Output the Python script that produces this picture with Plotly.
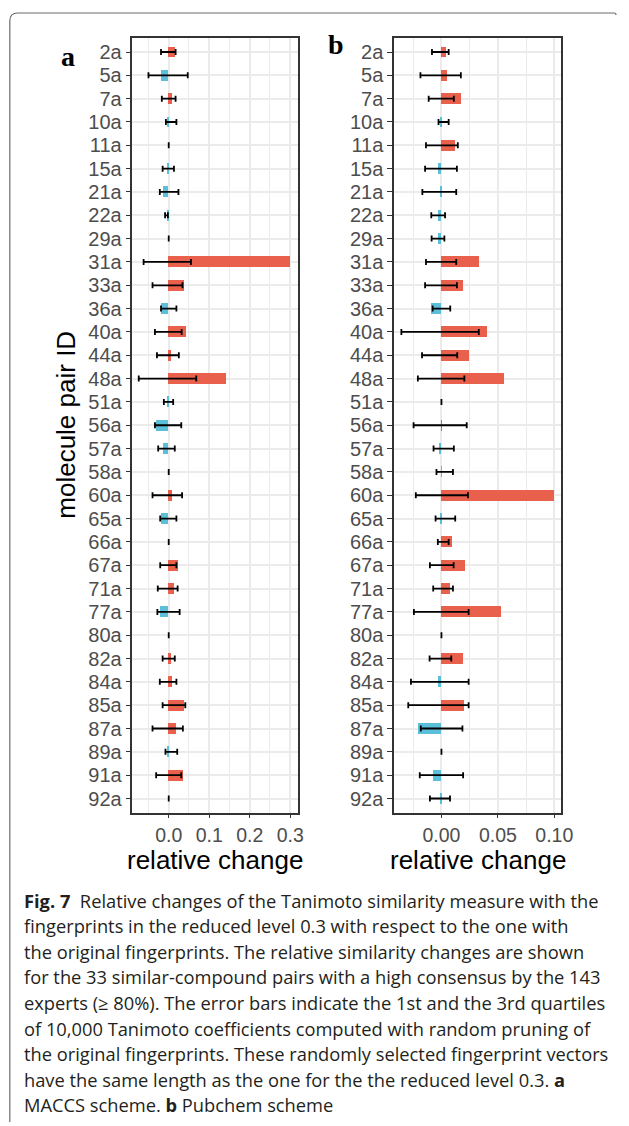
import plotly.graph_objects as go

W, H = 629, 1126

pairs = ["2a", "5a", "7a", "10a", "11a", "15a", "21a", "22a", "29a", "31a", "33a",
         "36a", "40a", "44a", "48a", "51a", "56a", "57a", "58a", "60a", "65a", "66a",
         "67a", "71a", "77a", "80a", "82a", "84a", "85a", "87a", "89a", "91a", "92a"]

# Panel a: MACCS
maccs_change = [0.017, -0.019, 0.008, -0.003, 0.0, -0.004, -0.013, -0.003, 0.0, 0.301, 0.040,
                -0.019, 0.044, 0.007, 0.142, -0.003, -0.031, -0.012, 0.0, 0.008, -0.017, 0.0,
                0.025, 0.015, -0.021, 0.0, 0.006, 0.010, 0.040, 0.019, -0.003, 0.036, 0.0]
maccs_q1 = [-0.019, -0.050, -0.017, -0.007, 0.0, -0.015, -0.022, -0.009, 0.0, -0.062, -0.040,
            -0.019, -0.034, -0.029, -0.074, -0.012, -0.034, -0.026, 0.0, -0.040, -0.021, 0.0,
            -0.021, -0.027, -0.028, 0.0, -0.015, -0.022, -0.015, -0.040, -0.008, -0.031, 0.0]
maccs_q3 = [0.017, 0.047, 0.017, 0.019, 0.0, 0.013, 0.024, -0.002, 0.0, 0.055, 0.034,
            0.019, 0.032, 0.025, 0.068, 0.011, 0.031, 0.015, 0.0, 0.033, 0.019, 0.0,
            0.019, 0.022, 0.027, 0.0, 0.015, 0.019, 0.041, 0.035, 0.021, 0.031, 0.0]

# Panel b: Pubchem
pub_change = [0.004, 0.005, 0.0172, -0.0005, 0.0116, -0.0032, -0.0005, -0.0026, -0.0026, 0.0331, 0.0189,
              -0.0093, 0.0407, 0.0244, 0.0555, 0.0, 0.0003, -0.002, -0.0003, 0.0994, -0.0005, 0.0093,
              0.0212, 0.0076, 0.0532, 0.0, 0.0189, -0.0029, 0.0198, -0.0206, 0.0, -0.0076, -0.0005]
pub_q1 = [-0.0084, -0.0186, -0.0113, -0.0026, -0.0137, -0.0145, -0.0169, -0.009, -0.0087, -0.0137, -0.0145,
          -0.0078, -0.0355, -0.0172, -0.0209, 0.0, -0.0247, -0.007, -0.0044, -0.0227, -0.0052, -0.0032,
          -0.0102, -0.0073, -0.0244, 0.0, -0.0105, -0.027, -0.0294, -0.0183, 0.0, -0.0192, -0.0102]
pub_q3 = [0.0064, 0.0172, 0.011, 0.0064, 0.0145, 0.0137, 0.0131, 0.0032, 0.0026, 0.0131, 0.0137,
          0.0078, 0.0331, 0.014, 0.0203, 0.0, 0.0224, 0.011, 0.0102, 0.0235, 0.0122, 0.0064,
          0.0108, 0.0102, 0.0241, 0.0, 0.0087, 0.0241, 0.0241, 0.0186, 0.0, 0.0192, 0.0076]

ticks_a = [0.0, 0.1, 0.2, 0.3]
ticklabels_a = ["0.0", "0.1", "0.2", "0.3"]
minor_a = [-0.05, 0.05, 0.15, 0.25]
ticks_b = [0.0, 0.05, 0.10]
ticklabels_b = ["0.00", "0.05", "0.10"]
minor_b = [-0.025, 0.025, 0.075]

caption_lines = [
    "<b>Fig. 7</b>  Relative changes of the Tanimoto similarity measure with the",
    "fingerprints in the reduced level 0.3 with respect to the one with",
    "the original fingerprints. The relative similarity changes are shown",
    "for the 33 similar-compound pairs with a high consensus by the 143",
    "experts (&#8805; 80%). The error bars indicate the 1st and the 3rd quartiles",
    "of 10,000 Tanimoto coefficients computed with random pruning of",
    "the original fingerprints. These randomly selected fingerprint vectors",
    "have the same length as the one for the the reduced level 0.3. <b>a</b>",
    "MACCS scheme. <b>b</b> Pubchem scheme",
]

RED = "#E9604C"
BLUE = "#5BBFDA"


def px(x):
    return x / W


def py(y):
    return 1 - y / H


fig = go.Figure()


def add_panel(vals, q1, q3, xa, ya):
    colors = [RED if v > 0 else BLUE for v in vals]
    fig.add_trace(go.Bar(
        x=vals, y=pairs, orientation="h", marker=dict(color=colors, line=dict(width=0)),
        width=0.47, xaxis=xa, yaxis=ya, showlegend=False, hoverinfo="x+y"))
    mid = [(a + b) / 2 for a, b in zip(q1, q3)]
    half = [(b - a) / 2 for a, b in zip(q1, q3)]
    fig.add_trace(go.Scatter(
        x=mid, y=pairs, mode="markers", marker=dict(size=1, opacity=0),
        error_x=dict(type="data", array=half, symmetric=True, color="black",
                     thickness=1.8, width=3),
        xaxis=xa, yaxis=ya, showlegend=False, hoverinfo="skip"))


add_panel(maccs_change, maccs_q1, maccs_q3, "x", "y")
add_panel(pub_change, pub_q1, pub_q3, "x2", "y2")

GRID = "#EBEBEB"
LINE = "#333333"
YTICKFONT = dict(family="Liberation Sans, Arial", size=20, color="#4D4D4D")
XTICKFONT = dict(family="Liberation Sans, Arial", size=19.5, color="#4D4D4D")
TITLEFONT = dict(family="Liberation Sans, Arial", size=26, color="black")

ydom = [py(812.5), py(38)]

common_x = dict(showline=True, linecolor=LINE, linewidth=1.5, mirror=True,
                ticks="outside", ticklen=4, tickcolor=LINE, tickwidth=1.2,
                showgrid=True, gridcolor=GRID, gridwidth=1.5, zeroline=False,
                tickfont=XTICKFONT, tickmode="array")
common_y = dict(showline=True, linecolor=LINE, linewidth=1.5, mirror=True,
                ticks="outside", ticklen=5, tickcolor=LINE, tickwidth=1.2,
                showgrid=True, gridcolor=GRID, gridwidth=1.5, zeroline=False,
                tickfont=YTICKFONT, type="category", categoryorder="array",
                categoryarray=pairs, tickmode="array", tickvals=pairs, ticktext=pairs,
                domain=ydom)

fig.update_layout(
    width=W, height=H, autosize=False,
    margin=dict(l=0, r=0, t=0, b=0),
    paper_bgcolor="white", plot_bgcolor="white",
    bargap=0,
    xaxis=dict(domain=[px(135), px(303.5)], range=[-0.0896, 0.3185],
               tickvals=ticks_a, ticktext=ticklabels_a, anchor="y",
               minor=dict(tickmode="array", tickvals=minor_a, showgrid=True,
                          gridcolor=GRID, gridwidth=0.8, ticklen=0),
               **common_x),
    xaxis2=dict(domain=[px(401.7), px(572)], range=[-0.042, 0.106],
                tickvals=ticks_b, ticktext=ticklabels_b, anchor="y2",
                minor=dict(tickmode="array", tickvals=minor_b, showgrid=True,
                           gridcolor=GRID, gridwidth=0.8, ticklen=0),
                **common_x),
    yaxis=dict(anchor="x", **common_y),
    yaxis2=dict(anchor="x2", **common_y),
)
fig.update_yaxes(range=[len(pairs) - 0.4, -0.6])

ann = []
# axis titles
ann.append(dict(text="relative change", x=px(219), y=py(860), xref="paper", yref="paper",
                showarrow=False, font=TITLEFONT, xanchor="center", yanchor="middle"))
ann.append(dict(text="relative change", x=px(487), y=py(860), xref="paper", yref="paper",
                showarrow=False, font=TITLEFONT, xanchor="center", yanchor="middle"))
ann.append(dict(text="molecule pair ID", x=px(67), y=py(425), xref="paper", yref="paper",
                showarrow=False, font=TITLEFONT, textangle=-90,
                xanchor="center", yanchor="middle"))
# panel letters
ann.append(dict(text="<b>a</b>", x=px(69), y=py(56), xref="paper", yref="paper",
                showarrow=False, font=dict(family="Liberation Serif, Times New Roman", size=28, color="black"),
                xanchor="center", yanchor="middle"))
ann.append(dict(text="<b>b</b>", x=px(343), y=py(45), xref="paper", yref="paper",
                showarrow=False, font=dict(family="Liberation Serif, Times New Roman", size=28, color="black"),
                xanchor="center", yanchor="middle"))
# caption
for i, line in enumerate(caption_lines):
    ann.append(dict(text=line, x=px(22), y=py(900 + i * 25.6), xref="paper", yref="paper",
                    showarrow=False, xanchor="left", yanchor="middle",
                    font=dict(family="Open Sans", size=18.3, color="#231F20")))
fig.update_layout(annotations=ann)

# figure frame (rounded top-left corner)
path = (f"M {px(10)},{py(1122)} L {px(10)},{py(21)} "
        f"Q {px(10)},{py(13)} {px(18)},{py(13)} L {px(626)},{py(13)} "
        f"Q {px(628)},{py(13)} {px(628)},{py(15)}")
fig.add_shape(type="path", path=path, xref="paper", yref="paper",
              line=dict(color="#6B6B6B", width=1.2))

fig.write_html("out.html", config={"displayModeBar": False},
               post_script="document.body.style.margin='0';document.body.style.overflow='hidden';")
